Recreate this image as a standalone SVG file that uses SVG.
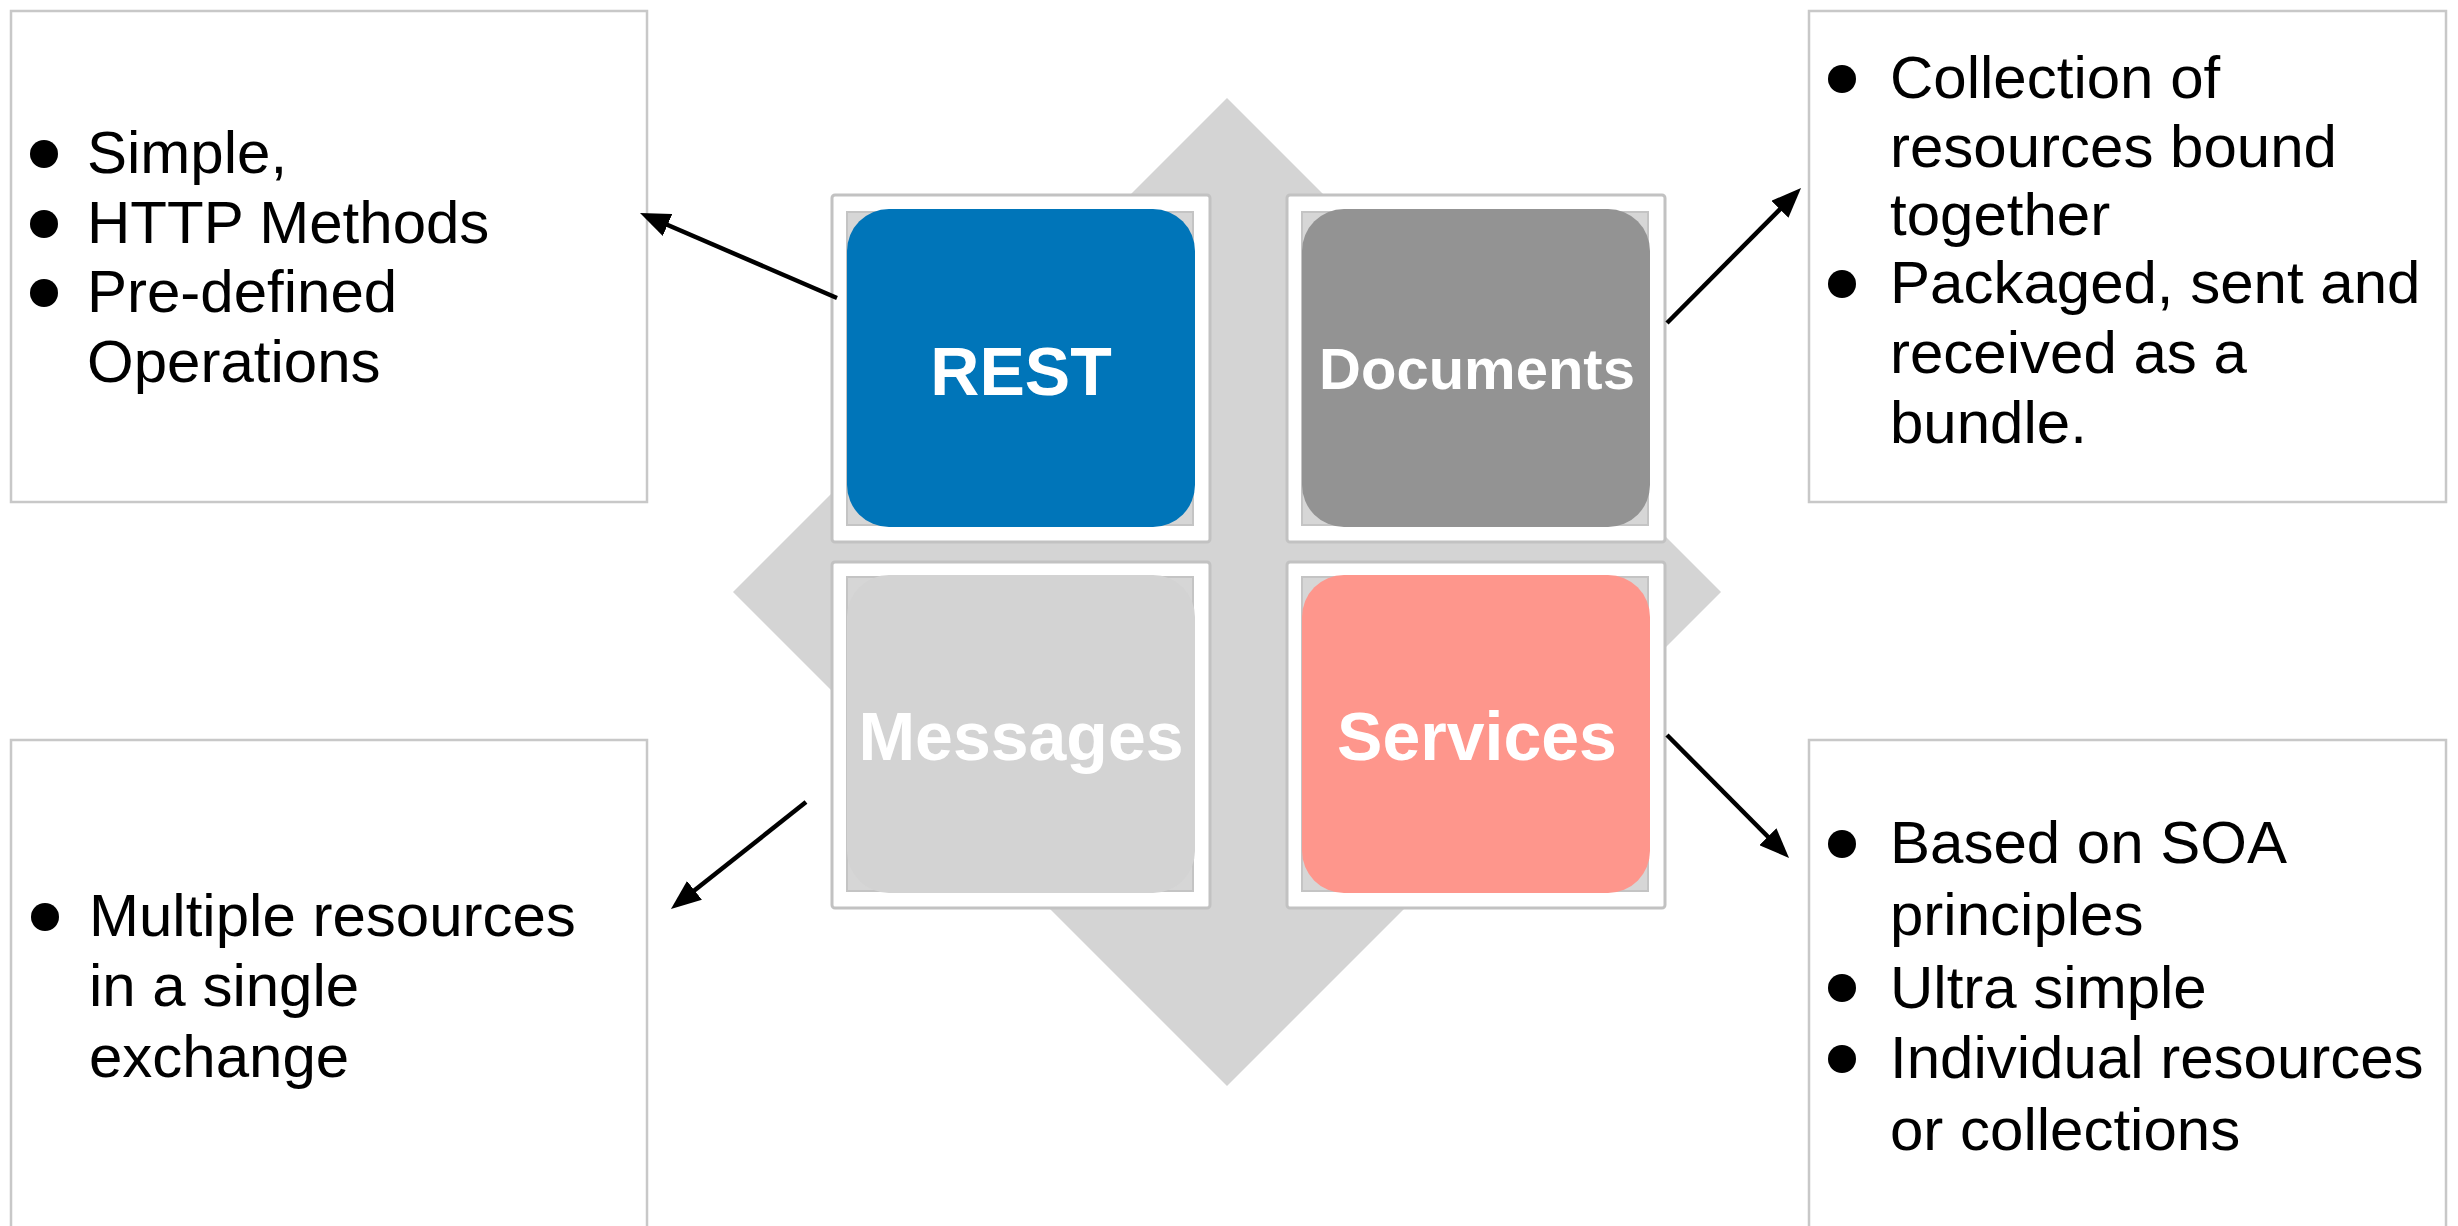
<svg xmlns="http://www.w3.org/2000/svg" width="2458" height="1226" viewBox="0 0 2458 1226">
<style>
.box{fill:#ffffff;stroke:#c8c8c8;stroke-width:2.5}
.txt{font-family:"Liberation Sans",Arial,Helvetica,sans-serif;font-size:60px;fill:#000000}
.bul{fill:#000000}
.frame{fill:#ffffff;stroke:#c2c2c2;stroke-width:3}
.inner{fill:#d6d6d6;stroke:#c4c4c4;stroke-width:2}
.lbl{font-family:"Liberation Sans",Arial,Helvetica,sans-serif;font-weight:bold;font-size:68px;fill:#ffffff;text-anchor:middle}
.conn{stroke:#000000;stroke-width:4.5;fill:none;marker-end:url(#ah)}
</style>
<defs>
<marker id="ah" viewBox="0 0 30 24" refX="20" refY="12" markerWidth="30" markerHeight="24" markerUnits="userSpaceOnUse" orient="auto">
<path d="M0,0 L30,12 L0,24 z" fill="#000000"/>
</marker>
</defs>
<rect width="2458" height="1226" fill="#ffffff"/>
<g id="diamond">
<polygon points="1227,98 1721,592 1227,1086 733,592" fill="#d4d4d4"/>
</g>
<g id="rest">
<rect class="frame" x="832" y="195" width="378" height="347" rx="3"/>
<rect class="inner" x="847" y="212" width="346" height="313"/>
<rect x="847" y="209" width="348" height="318" rx="42" fill="#0075b9"/>
<text class="lbl" x="1021" y="395">REST</text>
</g>
<g id="documents">
<rect class="frame" x="1287" y="195" width="378" height="347" rx="3"/>
<rect class="inner" x="1302" y="212" width="346" height="313"/>
<rect x="1302" y="209" width="348" height="318" rx="42" fill="#939393"/>
<text class="lbl" x="1477" y="389" style="font-size:58px">Documents</text>
</g>
<g id="messages">
<rect class="frame" x="832" y="562" width="378" height="346" rx="3"/>
<rect class="inner" x="847" y="577" width="346" height="314"/>
<rect x="847" y="575" width="348" height="318" rx="42" fill="#d3d3d3"/>
<text class="lbl" x="1021" y="760">Messages</text>
</g>
<g id="services">
<rect class="frame" x="1287" y="562" width="378" height="346" rx="3"/>
<rect class="inner" x="1302" y="577" width="346" height="314"/>
<rect x="1302" y="575" width="348" height="318" rx="42" fill="#fe968c"/>
<text class="lbl" x="1477" y="760">Services</text>
</g>
<g id="rest-notes">
<rect class="box" x="11" y="11" width="636" height="491"/>
<circle class="bul" cx="44" cy="154" r="14"/>
<circle class="bul" cx="44" cy="224" r="14"/>
<circle class="bul" cx="44" cy="293" r="14"/>
<text class="txt" x="87" y="173">Simple,</text>
<text class="txt" x="87" y="243">HTTP Methods</text>
<text class="txt" x="87" y="312">Pre-defined</text>
<text class="txt" x="87" y="382">Operations</text>
</g>
<g id="documents-notes">
<rect class="box" x="1809" y="11" width="637" height="491"/>
<circle class="bul" cx="1842" cy="79" r="14"/>
<circle class="bul" cx="1842" cy="284" r="14"/>
<text class="txt" x="1890" y="98">Collection of</text>
<text class="txt" x="1890" y="167">resources bound</text>
<text class="txt" x="1890" y="235">together</text>
<text class="txt" x="1890" y="303">Packaged, sent and</text>
<text class="txt" x="1890" y="373">received as a</text>
<text class="txt" x="1890" y="443">bundle.</text>
</g>
<g id="messages-notes">
<rect class="box" x="11" y="740" width="636" height="500"/>
<circle class="bul" cx="45" cy="917" r="14"/>
<text class="txt" x="89" y="936">Multiple resources</text>
<text class="txt" x="89" y="1006">in a single</text>
<text class="txt" x="89" y="1077">exchange</text>
</g>
<g id="services-notes">
<rect class="box" x="1809" y="740" width="637" height="500"/>
<circle class="bul" cx="1842" cy="844" r="14"/>
<circle class="bul" cx="1842" cy="988" r="14"/>
<circle class="bul" cx="1842" cy="1059" r="14"/>
<text class="txt" x="1890" y="863">Based on SOA</text>
<text class="txt" x="1890" y="935">principles</text>
<text class="txt" x="1890" y="1008">Ultra simple</text>
<text class="txt" x="1890" y="1078">Individual resources</text>
<text class="txt" x="1890" y="1150">or collections</text>
</g>
<g id="connectors">
<line class="conn" x1="837" y1="298" x2="649.2" y2="217"/>
<line class="conn" x1="1667" y1="323" x2="1794" y2="195.1"/>
<line class="conn" x1="1667" y1="735" x2="1782" y2="850.9"/>
<line class="conn" x1="806" y1="802" x2="678.8" y2="902.8"/>
</g>
</svg>
